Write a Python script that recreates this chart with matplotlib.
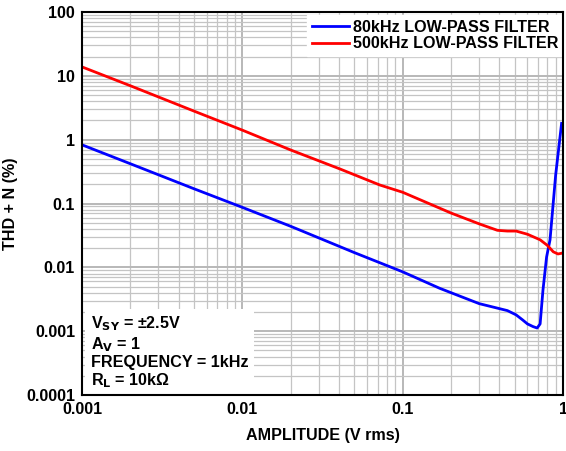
import matplotlib
matplotlib.use("Agg")
import matplotlib.pyplot as plt
from matplotlib.ticker import FixedLocator, FixedFormatter, LogLocator, NullFormatter

plt.rcParams['font.family'] = ['Liberation Sans', 'DejaVu Sans']
plt.rcParams['font.weight'] = 'bold'

# Data
blue_x = [0.001, 0.002, 0.005, 0.01, 0.02, 0.05, 0.1, 0.17, 0.3, 0.45, 0.51,
          0.56, 0.6, 0.65, 0.69, 0.72, 0.75, 0.79, 0.83, 0.9, 0.98]
blue_y = [0.83, 0.42, 0.17, 0.087, 0.044, 0.017, 0.0085, 0.0047, 0.0027, 0.0021, 0.0018,
          0.0015, 0.0013, 0.00118, 0.00112, 0.0013, 0.0044, 0.0145, 0.027, 0.28, 1.8]
red_x = [0.001, 0.002, 0.005, 0.01, 0.02, 0.0407, 0.072, 0.1, 0.2, 0.3, 0.39,
         0.45, 0.51, 0.6, 0.72, 0.8, 0.87, 0.93, 0.98, 1.0]
red_y = [13.8, 7.0, 2.8, 1.41, 0.69, 0.347, 0.195, 0.15, 0.071, 0.048, 0.038,
         0.037, 0.037, 0.033, 0.027, 0.022, 0.0175, 0.0162, 0.0166, 0.017]

series_labels = ["80kHz LOW-PASS FILTER", "500kHz LOW-PASS FILTER"]
x_ticks = [0.001, 0.01, 0.1, 1]
x_tick_labels = ["0.001", "0.01", "0.1", "1"]
y_ticks = [0.0001, 0.001, 0.01, 0.1, 1, 10, 100]
y_tick_labels = ["0.0001", "0.001", "0.01", "0.1", "1", "10", "100"]
conditions = "V$_{\\mathbf{SY}}$ = ±2.5V\nA$_{\\mathbf{V}}$ = 1\nFREQUENCY = 1kHz\nR$_{\\mathbf{L}}$ = 10kΩ"

FS = 11.6

fig = plt.figure(figsize=(5.66, 4.51), dpi=100)
ax = fig.add_axes([82/566, 1-395/451, (563-82)/566, (395-12)/451])

ax.plot(blue_x, blue_y, color='#0000ff', lw=2.0, label=series_labels[0], zorder=4)
ax.plot(red_x, red_y, color='#ff0000', lw=2.0, label=series_labels[1], zorder=4)

ax.set_xscale('log')
ax.set_yscale('log')
ax.set_xlim(0.001, 1)
ax.set_ylim(0.0001, 100)

ax.xaxis.set_major_locator(FixedLocator(x_ticks))
ax.xaxis.set_major_formatter(FixedFormatter(x_tick_labels))
ax.yaxis.set_major_locator(FixedLocator(y_ticks))
ax.yaxis.set_major_formatter(FixedFormatter(y_tick_labels))
ax.xaxis.set_minor_locator(LogLocator(base=10, subs=range(2, 10), numticks=20))
ax.yaxis.set_minor_locator(LogLocator(base=10, subs=range(2, 10), numticks=20))
ax.xaxis.set_minor_formatter(NullFormatter())
ax.yaxis.set_minor_formatter(NullFormatter())

ax.grid(True, which='major', color='#b8b8b8', lw=1.4, zorder=0)
ax.grid(True, which='minor', color='#c4c4c4', lw=0.9, zorder=0)
ax.set_axisbelow(True)
ax.tick_params(which='both', length=0, labelsize=FS, pad=5)
for lab in ax.get_xticklabels() + ax.get_yticklabels():
    lab.set_fontweight('bold')
for s in ax.spines.values():
    s.set_linewidth(1.5)
    s.set_color('black')
    s.set_zorder(6)

ax.set_xlabel("AMPLITUDE (V rms)", fontsize=FS, fontweight='bold', labelpad=8)
ax.set_ylabel("THD + N (%)", fontsize=FS, fontweight='bold')
ax.yaxis.set_label_coords((18 - 82) / 481, 0.5)

leg = ax.legend(loc='upper right', bbox_to_anchor=(1.0, 1 - 3/383), frameon=True,
                fontsize=FS, handlelength=2.3, handletextpad=0.25, borderpad=0.3,
                labelspacing=0.1, borderaxespad=0.0, fancybox=False)
leg.get_frame().set_edgecolor('white')
leg.get_frame().set_facecolor('white')
leg.get_frame().set_alpha(1)
leg.set_zorder(5)
for t in leg.get_texts():
    t.set_fontweight('bold')

ax.text(0.018, 0.012, conditions, transform=ax.transAxes, fontsize=FS,
        fontweight='bold', va='bottom', ha='left', linespacing=1.12, zorder=5,
        bbox=dict(boxstyle='square,pad=0.35', facecolor='white', edgecolor='none'))

fig.savefig("out.png", dpi=100)
